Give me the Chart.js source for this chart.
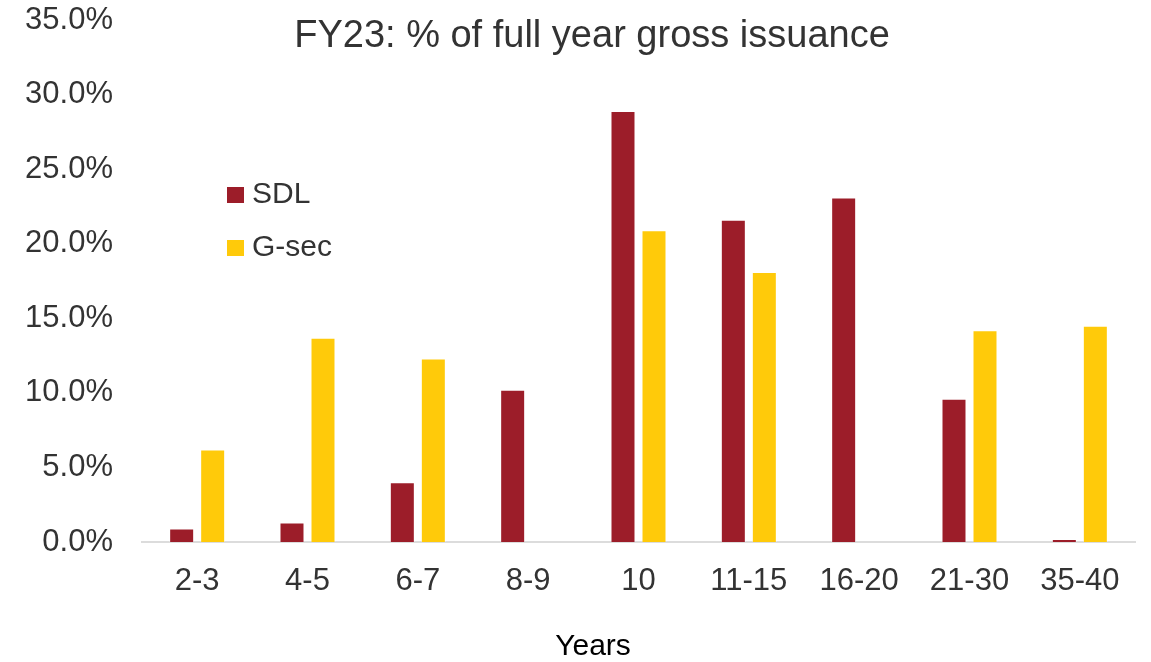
<!DOCTYPE html>
<html>
<head>
<meta charset="utf-8">
<title>FY23: % of full year gross issuance</title>
<script src="https://cdn.jsdelivr.net/npm/chart.js@4.4.0/dist/chart.umd.min.js"></script>
<style>
  html, body { margin: 0; padding: 0; background: #fff; }
  #wrap { width: 1151px; height: 662px; }
</style>
</head>
<body>
<div id="wrap"><canvas id="issuanceChart" width="1151" height="662"></canvas></div>
<script>
// tenor buckets (years) and each one's share of full-year gross issuance, in %
var tenors = ['2-3', '4-5', '6-7', '8-9', '10', '11-15', '16-20', '21-30', '35-40'];
var sdlShare = [0.9, 1.3, 4.0, 10.2, 28.9, 21.6, 23.1, 9.6, 0.2];
var gsecShare = [6.2, 13.7, 12.3, 0, 20.9, 18.1, 0, 14.2, 14.5];
var yTicks = [0, 5, 10, 15, 20, 25, 30, 35];

var FONT = "Arial, 'Liberation Sans', sans-serif";
var TEXT = '#333333';

// title, x-axis caption and the in-plot legend are painted straight onto the canvas
var titleAndLegend = {
    id: 'titleAndLegend',
    afterDraw: function (chart) {
        var ctx = chart.ctx;
        ctx.save();
        ctx.fillStyle = TEXT;
        ctx.font = '38px ' + FONT;
        ctx.textAlign = 'center';
        ctx.textBaseline = 'alphabetic';
        ctx.fillText('FY23: % of full year gross issuance', 592, 47);

        ctx.fillStyle = '#000000';
        ctx.font = '30px ' + FONT;
        ctx.fillText('Years', 593, 655);

        ctx.textAlign = 'left';
        chart.data.datasets.forEach(function (ds, i) {
            var y = 203 + i * 53;
            ctx.fillStyle = ds.backgroundColor;
            ctx.fillRect(227, y - 16, 17, 16);
            ctx.fillStyle = TEXT;
            ctx.fillText(ds.label, 252, y);
        });
        ctx.restore();
    }
};

var ctx = document.getElementById('issuanceChart').getContext('2d');
new Chart(ctx, {
    type: 'bar',
    data: {
        labels: tenors,
        datasets: [
            {
                label: 'SDL',
                data: sdlShare,
                backgroundColor: '#9C1D29',
                borderColor: 'rgba(255,255,255,0.35)',
                borderWidth: 1
            },
            {
                label: 'G-sec',
                data: gsecShare,
                backgroundColor: '#FFCA0A',
                borderColor: 'rgba(255,255,255,0.35)',
                borderWidth: 1
            }
        ]
    },
    options: {
        responsive: false,
        animation: false,
        categoryPercentage: 0.562,
        barPercentage: 0.806,
        layout: { padding: { top: 20, right: 16, bottom: 0, left: 0 } },
        plugins: {
            legend: { display: false },
            title: { display: false },
            tooltip: { enabled: false }
        },
        scales: {
            x: {
                grid: { display: false, drawTicks: false },
                border: { display: true, color: '#dcdcdc', width: 2 },
                afterFit: function (axis) {
                    axis.height = 120;
                    axis.paddingLeft = 0;
                    axis.paddingRight = 0;
                },
                ticks: {
                    color: TEXT,
                    font: { family: FONT, size: 31 },
                    padding: 21
                }
            },
            y: {
                min: 0,
                max: 35,
                grid: { display: false, drawTicks: false },
                border: { display: false },
                afterBuildTicks: function (axis) {
                    axis.ticks = yTicks.map(function (v) { return { value: v }; });
                },
                afterFit: function (axis) {
                    axis.width = 142;
                    axis.paddingTop = 0;
                    axis.paddingBottom = 0;
                },
                ticks: {
                    color: TEXT,
                    font: { family: FONT, size: 31 },
                    padding: 29,
                    callback: function (v) { return v.toFixed(1) + '%'; }
                }
            }
        }
    },
    plugins: [titleAndLegend]
});
</script>
</body>
</html>
